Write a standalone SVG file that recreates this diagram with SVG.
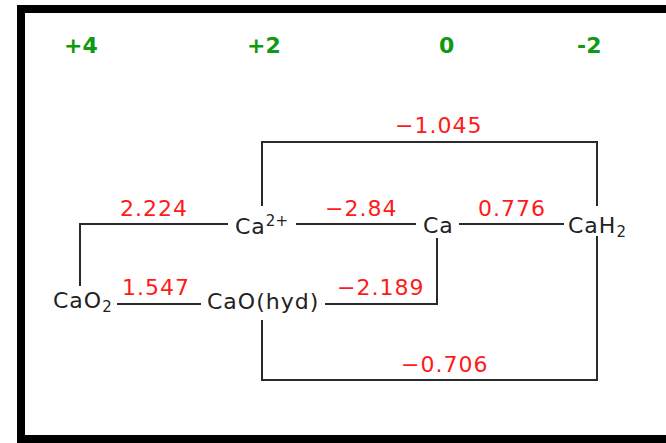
<svg xmlns="http://www.w3.org/2000/svg" width="666" height="443" viewBox="0 0 666 443">
<style>
.frame{fill:#fff;stroke:#000;stroke-width:8}
.ox{font-family:"DejaVu Sans",Verdana,sans-serif;font-size:22px;font-weight:bold;fill:#119911}
.sp{font-family:"DejaVu Sans",Verdana,sans-serif;font-size:22px;letter-spacing:1px;fill:#222}
.pot{font-family:"DejaVu Sans",Verdana,sans-serif;font-size:22px;letter-spacing:1px;fill:#ff1a1a}
.sm{font-size:15px;letter-spacing:0}
.ln{stroke:#2a2a2a;stroke-width:2;fill:none;stroke-linecap:square}
</style>
<rect class="frame" x="21" y="9" width="660" height="430"/>
<g id="oxidation-states">
<text class="ox" x="64" y="52.5">+4</text>
<text class="ox" x="247" y="52.5">+2</text>
<text class="ox" x="439" y="52.5">0</text>
<text class="ox" x="577" y="52.5">-2</text>
</g>
<g id="connectors">
<polyline class="ln" points="262,205 262,142 597,142 597,205"/>
<polyline class="ln" points="227,224 80,224 80,285"/>
<line class="ln" x1="297" y1="224" x2="415" y2="224"/>
<line class="ln" x1="460" y1="224" x2="563" y2="224"/>
<line class="ln" x1="118" y1="304" x2="200" y2="304"/>
<polyline class="ln" points="326,304 437,304 437,239"/>
<polyline class="ln" points="262,321 262,380 597,380 597,237"/>
</g>
<g id="potentials">
<text class="pot" x="395" y="133">−1.045</text>
<text class="pot" x="120" y="216">2.224</text>
<text class="pot" x="325" y="216">−2.84</text>
<text class="pot" x="478" y="216">0.776</text>
<text class="pot" x="122" y="295">1.547</text>
<text class="pot" x="337" y="295">−2.189</text>
<text class="pot" x="401" y="372">−0.706</text>
</g>
<g id="node-Ca2plus"><text class="sp" x="235" y="234">Ca<tspan class="sm" dy="-8">2+</tspan></text></g>
<g id="node-Ca"><text class="sp" x="423" y="233">Ca</text></g>
<g id="node-CaH2"><text class="sp" x="568" y="233">CaH<tspan class="sm" dy="4">2</tspan></text></g>
<g id="node-CaO2"><text class="sp" x="53" y="308">CaO<tspan class="sm" dy="4">2</tspan></text></g>
<g id="node-CaO-hyd"><text class="sp" x="207" y="309">CaO(hyd)</text></g>
</svg>
